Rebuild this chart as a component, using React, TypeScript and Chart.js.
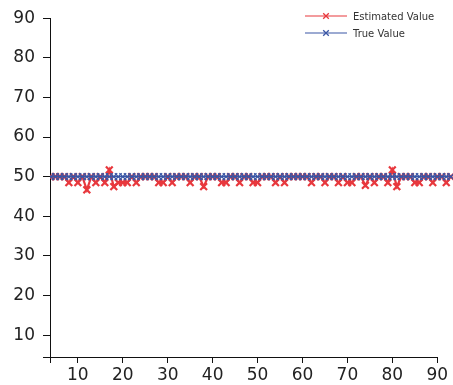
import { useEffect, useRef } from 'react';
import { Chart, registerables } from 'chart.js';

Chart.register(...registerables);

const xValues = [
  4, 5, 6, 7, 8, 9, 10, 11, 12, 13, 14, 15, 16, 17, 18, 19, 20, 21, 22, 23,
  24, 25, 26, 27, 28, 29, 30, 31, 32, 33, 34, 35, 36, 37, 38, 39, 40, 41, 42, 43,
  44, 45, 46, 47, 48, 49, 50, 51, 52, 53, 54, 55, 56, 57, 58, 59, 60, 61, 62, 63,
  64, 65, 66, 67, 68, 69, 70, 71, 72, 73, 74, 75, 76, 77, 78, 79, 80, 81, 82, 83,
  84, 85, 86, 87, 88, 89, 90, 91, 92, 93,
];

const estimatedValues = [
  50, 50, 50, 50, 48.5, 50, 48.5, 50, 46.7, 50, 48.5, 50, 48.5, 51.7, 47.5, 48.5, 48.5, 48.5, 50, 48.5,
  50, 50, 50, 50, 48.5, 48.5, 50, 48.5, 50, 50, 50, 48.5, 50, 50, 47.5, 50, 50, 50, 48.5, 48.5,
  50, 50, 48.5, 50, 50, 48.5, 48.5, 50, 50, 50, 48.5, 50, 48.5, 50, 50, 50, 50, 50, 48.5, 50,
  50, 48.5, 50, 50, 48.5, 50, 48.5, 48.5, 50, 50, 47.8, 50, 48.5, 50, 50, 48.5, 51.7, 47.5, 50, 50,
  50, 48.5, 48.5, 50, 50, 48.5, 50, 50, 48.5, 50,
];

const trueValues = [
  50, 50, 50, 50, 50, 50, 50, 50, 50, 50, 50, 50, 50, 50, 50, 50, 50, 50, 50, 50,
  50, 50, 50, 50, 50, 50, 50, 50, 50, 50, 50, 50, 50, 50, 50, 50, 50, 50, 50, 50,
  50, 50, 50, 50, 50, 50, 50, 50, 50, 50, 50, 50, 50, 50, 50, 50, 50, 50, 50, 50,
  50, 50, 50, 50, 50, 50, 50, 50, 50, 50, 50, 50, 50, 50, 50, 50, 50, 50, 50, 50,
  50, 50, 50, 50, 50, 50, 50, 50, 50, 50,
];

const xTickValues = [10, 20, 30, 40, 50, 60, 70, 80, 90];
const yTickValues = [10, 20, 30, 40, 50, 60, 70, 80, 90];

const seriesNames = ['Estimated Value', 'True Value'];
const seriesColors = ['#e8383d', '#3a56a5'];

const FONT = "'DejaVu Sans', sans-serif";

const legendPlugin = {
  id: 'customLegend',
  afterDraw(chart: any) {
    const ctx = chart.ctx;
    ctx.save();
    seriesNames.forEach((name, i) => {
      const y = 16 + i * 17;
      const color = seriesColors[i];
      ctx.strokeStyle = color;
      ctx.lineWidth = 1.2;
      ctx.beginPath();
      ctx.moveTo(305, y);
      ctx.lineTo(347, y);
      ctx.stroke();
      const cx = 326;
      const r = 2.8;
      ctx.lineWidth = 1.3;
      ctx.beginPath();
      ctx.moveTo(cx - r, y - r);
      ctx.lineTo(cx + r, y + r);
      ctx.moveTo(cx - r, y + r);
      ctx.lineTo(cx + r, y - r);
      ctx.stroke();
      ctx.fillStyle = '#333';
      ctx.font = `10px ${FONT}`;
      ctx.textAlign = 'left';
      ctx.textBaseline = 'middle';
      ctx.fillText(name, 353, y + 1);
    });
    ctx.restore();
  },
};

// x-axis line that stops at the last labelled tick, as in the reference
const xAxisLinePlugin = {
  id: 'xAxisLine',
  afterDraw(chart: any) {
    const ctx = chart.ctx;
    const xs = chart.scales.x;
    const ys = chart.scales.y;
    const y = Math.round(ys.getPixelForValue(ys.min)) + 0.5;
    const x0 = xs.getPixelForValue(xs.min) - 7;
    const x1 = xs.getPixelForValue(xTickValues[xTickValues.length - 1]);
    ctx.save();
    ctx.strokeStyle = '#111';
    ctx.lineWidth = 1;
    ctx.beginPath();
    ctx.moveTo(x0, y);
    ctx.lineTo(x1 + 0.5, y);
    ctx.stroke();
    ctx.restore();
  },
};

export default function App() {
  const canvasRef = useRef<HTMLCanvasElement | null>(null);

  useEffect(() => {
    if (!canvasRef.current) return;
    const mk = (vals: number[]) => xValues.map((x, i) => ({ x, y: vals[i] }));
    const ds = (i: number, vals: number[], order: number, w: number) => ({
      label: seriesNames[i],
      data: mk(vals),
      order,
      borderColor: seriesColors[i],
      backgroundColor: seriesColors[i],
      borderWidth: w,
      pointStyle: 'crossRot' as const,
      pointRadius: 4.8,
      pointBorderWidth: w,
      tension: 0,
    });
    const chart = new Chart(canvasRef.current, {
      type: 'line',
      data: {
        datasets: [ds(0, estimatedValues, 1, 2.2), ds(1, trueValues, 0, 1.3)],
      },
      options: {
        responsive: false,
        animation: false,
        layout: { autoPadding: false, padding: { top: 17, right: 0, left: 0, bottom: 0 } },
        plugins: {
          legend: { display: false },
          tooltip: { enabled: false },
        },
        scales: {
          x: {
            type: 'linear',
            min: 3.8,
            max: 93.5,
            afterFit: (s: any) => {
              s.height = 28;
              s.paddingRight = 0;
            },
            afterBuildTicks: (s: any) => {
              s.ticks = [
                { value: 3.8 },
                ...xTickValues.map((v) => ({ value: v })),
                { value: 93.5 },
              ];
            },
            border: { display: false },
            grid: {
              drawOnChartArea: false,
              color: (c: any) => (c.tick && c.tick.value === 93.5 ? 'rgba(0,0,0,0)' : '#111'),
              tickLength: 6,
            },
            ticks: {
              autoSkip: false,
              color: '#222',
              padding: 2,
              maxRotation: 0,
              font: { family: FONT, size: 17 },
              callback: (v: any) => (xTickValues.includes(Number(v)) ? String(v) : ''),
            },
          },
          y: {
            type: 'linear',
            min: 4.5,
            max: 90,
            afterFit: (s: any) => {
              s.width = 50;
            },
            afterBuildTicks: (s: any) => {
              s.ticks = yTickValues.map((v) => ({ value: v }));
            },
            border: { display: true, color: '#111', width: 1 },
            grid: { drawOnChartArea: false, color: '#111', tickLength: 7 },
            ticks: {
              autoSkip: false,
              color: '#222',
              padding: 8,
              font: { family: FONT, size: 17 },
              callback: (v: any) => String(v),
            },
          },
        },
      },
      plugins: [xAxisLinePlugin, legendPlugin],
    });
    return () => chart.destroy();
  }, []);

  return (
    <div style={{ position: 'fixed', left: 0, top: 0, width: 453, height: 385, background: '#fff' }}>
      <canvas ref={canvasRef} width={453} height={385} />
    </div>
  );
}
